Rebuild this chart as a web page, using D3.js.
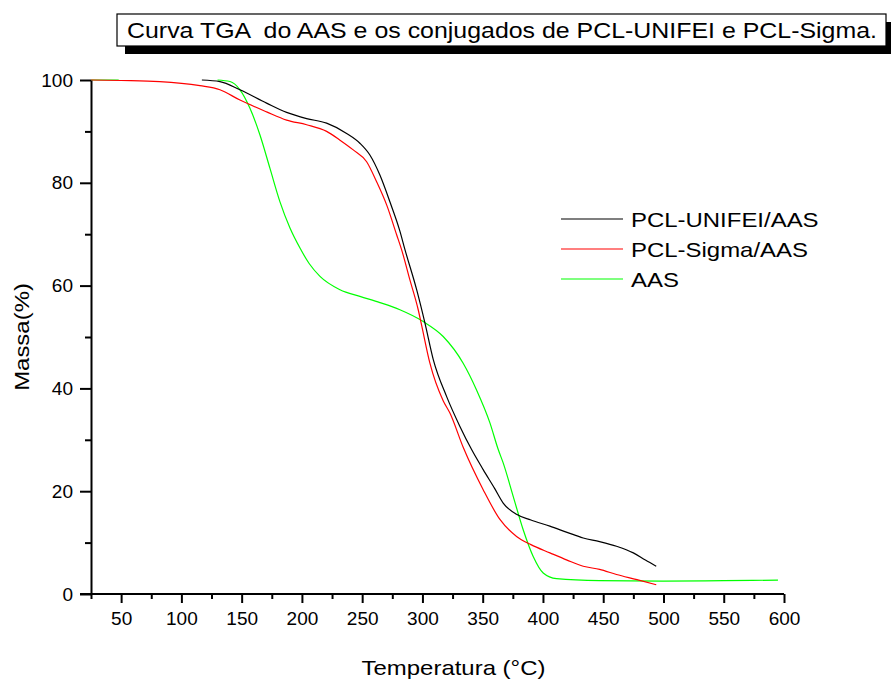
<!DOCTYPE html>
<html>
<head>
<meta charset="utf-8">
<script src="https://cdn.jsdelivr.net/npm/d3@7"></script>
<style>
	body { margin: 0; background: #fff; }
	svg { font-family: "Liberation Sans", Arial, sans-serif; }
	.axis path, .axis line { stroke: #000; stroke-width: 2; }
	.axis text { font-size: 19px; fill: #000; }
	.curve { fill: none; stroke-width: 1.2; }
</style>
</head>
<body>
<div id="chart"></div>
<script>
const tempUnifei = [117, 132, 148.6, 170.7, 187.3, 203.9, 220.5, 237.1, 248.1, 256.4, 264.7, 273, 281.3, 285.5, 295.2, 302.1, 309, 320.1, 331.1, 340.8, 350.4, 360, 367, 378, 390, 405.7, 420, 433.4, 447, 461, 475, 485, 494];
const massUnifei = [100, 99.7, 98.1, 95.5, 93.7, 92.5, 91.6, 89.6, 87.7, 85.4, 81.5, 76.3, 70.6, 67, 59.2, 52.7, 45.6, 38.4, 32.6, 28.1, 24.2, 20.5, 17.7, 15.5, 14.4, 13.2, 12, 10.9, 10.2, 9.3, 8, 6.6, 5.4];

const tempSigma = [25, 50, 82, 115.4, 132, 148.6, 170.7, 187.3, 203.9, 220.5, 231.6, 242.6, 253.7, 262, 270.3, 278.6, 282.7, 289.6, 296.5, 299.3, 306.2, 317.2, 322.8, 333.9, 350.4, 364.3, 378.1, 390, 405.8, 420, 433.4, 447, 461, 478, 494];
const massSigma = [100, 99.9, 99.7, 98.9, 98.1, 96.1, 93.8, 92.2, 91.3, 90, 88.3, 86.4, 84.1, 80.2, 75.7, 69.9, 67, 61.1, 55.3, 52.3, 44.9, 37.6, 35.2, 28.5, 20.3, 14.5, 11.2, 9.6, 8, 6.6, 5.4, 4.8, 3.8, 2.8, 1.8];

const tempAAS = [25, 48, null, 130, 140.3, 148.6, 156.9, 165.2, 173.5, 181.8, 190.1, 198.4, 206, 215, 231.6, 248.1, 264.7, 281.3, 300.7, 317.2, 333.8, 344.9, 356, 362.9, 367, 375.3, 383.6, 391.9, 400.2, 411.3, 447, 500, 550, 595];
const massAAS = [100, 100, null, 100, 99.7, 98.1, 94.5, 89.3, 82.8, 76.3, 71.2, 67.3, 64.3, 61.8, 59.2, 57.9, 56.7, 55.3, 53, 50.1, 44.9, 39.7, 33.3, 28.1, 25.5, 19, 12.5, 7.3, 4.1, 3.0, 2.6, 2.5, 2.6, 2.7];

const seriesNames = ['PCL-UNIFEI/AAS', 'PCL-Sigma/AAS', 'AAS'];
const seriesColors = ['#000000', '#ff0000', '#00ff00'];

const xMajorTicks = [50, 100, 150, 200, 250, 300, 350, 400, 450, 500, 550, 600];
const xMinorTicks = [25, 75, 125, 175, 225, 275, 325, 375, 425, 475, 525, 575];
const yMajorTicks = [0, 20, 40, 60, 80, 100];
const yMinorTicks = [10, 30, 50, 70, 90];

const titleText = 'Curva TGA  do AAS e os conjugados de PCL-UNIFEI e PCL-Sigma.';

const width = 891, height = 680;
const margin = { left: 91, right: 107, top: 80, bottom: 86 };
const textStretch = 1.14;

const svg = d3.select('#chart').append('svg')
	.attr('width', width)
	.attr('height', height);

const xScale = d3.scaleLinear().domain([25, 600])
	.range([margin.left, width - margin.right]);
const yScale = d3.scaleLinear().domain([0, 100])
	.range([height - margin.bottom, margin.top]);

// alarga o texto na horizontal, como no original
const stretch = sel => sel.each(function () {
	d3.select(this)
		.attr('textLength', this.getComputedTextLength() * textStretch)
		.attr('lengthAdjust', 'spacingAndGlyphs');
});

const toPoints = (t, m) => t.map((v, i) => ({ t: v, m: m[i] }));
const series = [
	toPoints(tempUnifei, massUnifei),
	toPoints(tempSigma, massSigma),
	toPoints(tempAAS, massAAS)
];

const line = d3.line()
	.defined(d => d.t !== null && d.m !== null)
	.x(d => xScale(d.t))
	.y(d => yScale(d.m))
	.curve(d3.curveMonotoneX);

// curvas (AAS primeiro, para ficar por baixo)
[2, 1, 0].forEach(i => {
	svg.append('path')
		.attr('class', 'curve')
		.attr('stroke', seriesColors[i])
		.attr('d', line(series[i]));
});

// eixo x
const xAxis = svg.append('g').attr('class', 'axis')
	.attr('transform', `translate(0, ${yScale(0)})`)
	.call(d3.axisBottom(xScale).tickValues(xMajorTicks).tickSize(9).tickSizeOuter(0).tickPadding(9));
xAxis.select('.domain').attr('d', `M${xScale(25) - 11},0H${xScale(600)}`);
svg.append('g').attr('class', 'axis')
	.attr('transform', `translate(0, ${yScale(0)})`)
	.call(d3.axisBottom(xScale).tickValues(xMinorTicks).tickSize(5).tickSizeOuter(0).tickFormat(''))
	.select('.domain').remove();

// eixo y
svg.append('g').attr('class', 'axis')
	.attr('transform', `translate(${xScale(25)}, 0)`)
	.call(d3.axisLeft(yScale).tickValues(yMajorTicks).tickSize(11).tickSizeOuter(0).tickPadding(7));
svg.append('g').attr('class', 'axis')
	.attr('transform', `translate(${xScale(25)}, 0)`)
	.call(d3.axisLeft(yScale).tickValues(yMinorTicks).tickSize(6).tickSizeOuter(0).tickFormat(''))
	.select('.domain').remove();

// títulos dos eixos
svg.append('text')
	.attr('x', (xScale(25) + xScale(600)) / 2 + 16)
	.attr('y', 675)
	.attr('text-anchor', 'middle')
	.style('font-size', '21px')
	.text('Temperatura (°C)')
	.call(stretch);
svg.append('text')
	.attr('transform', `translate(29, ${(yScale(0) + yScale(100)) / 2}) rotate(-90)`)
	.attr('text-anchor', 'middle')
	.style('font-size', '21px')
	.text('Massa(%)')
	.call(stretch);

// título em caixa com sombra
svg.append('rect')
	.attr('x', 125).attr('y', 22).attr('width', 769).attr('height', 32)
	.attr('fill', '#000');
svg.append('rect')
	.attr('x', 117).attr('y', 14).attr('width', 769).attr('height', 32)
	.attr('fill', '#fff').attr('stroke', '#000').attr('stroke-width', 1.2);
svg.append('text')
	.attr('x', 127).attr('y', 38)
	.style('font-size', '22px')
	.style('white-space', 'pre')
	.attr('xml:space', 'preserve')
	.attr('textLength', 750)
	.attr('lengthAdjust', 'spacingAndGlyphs')
	.text(titleText);

// legenda
const legend = svg.append('g').attr('transform', 'translate(561, 219)');
seriesNames.forEach((name, i) => {
	const row = legend.append('g').attr('transform', `translate(0, ${i * 30})`);
	row.append('line')
		.attr('x1', 0).attr('x2', 62)
		.attr('stroke', seriesColors[i]).attr('stroke-width', 1.2);
	row.append('text')
		.attr('x', 70).attr('y', 8)
		.style('font-size', '21px')
		.text(name)
		.call(stretch);
});
</script>
</body>
</html>
